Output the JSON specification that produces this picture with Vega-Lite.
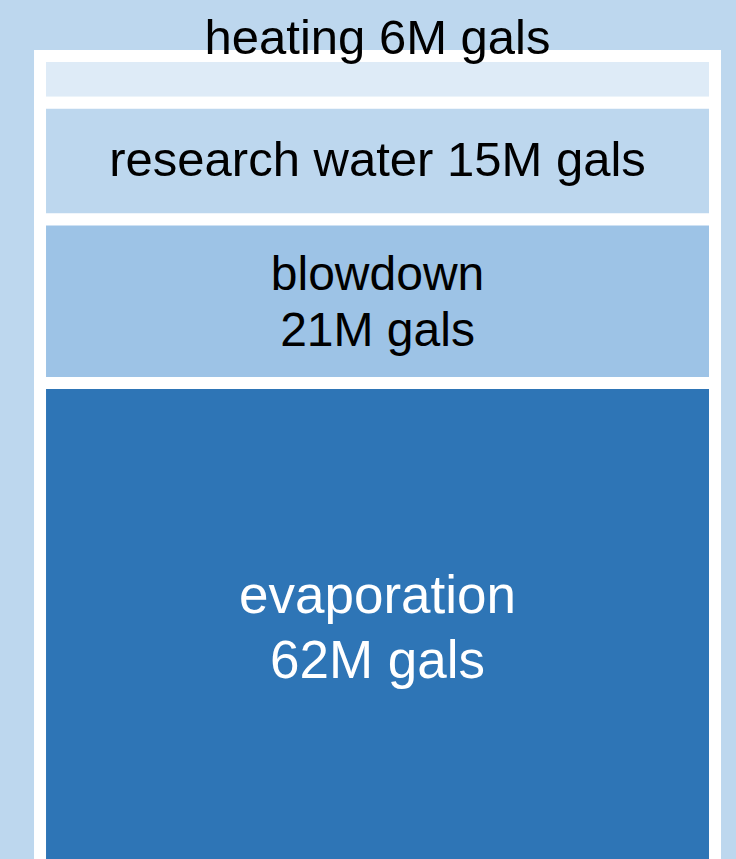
{
  "$schema": "https://vega.github.io/schema/vega-lite/v6.json",
  "width": 736,
  "height": 859,
  "padding": 0,
  "autosize": {"type": "none"},
  "background": "#BDD7EE",
  "config": {"view": {"stroke": null}, "font": "Liberation Sans"},
  "data": {
    "values": [
      {"group": "water use", "use": "heating", "value": 6, "order": 1, "label": "heating 6M gals"},
      {"group": "water use", "use": "research water", "value": 15, "order": 2, "label": "research water 15M gals"},
      {"group": "water use", "use": "blowdown", "value": 21, "order": 3, "label": "blowdown\n21M gals"},
      {"group": "water use", "use": "evaporation", "value": 62, "order": 4, "label": "evaporation\n62M gals"}
    ]
  },
  "transform": [
    {"stack": "value", "groupby": ["group"], "sort": [{"field": "order", "order": "ascending"}], "as": ["y0", "y1"]},
    {"calculate": "(datum.y0 + datum.y1) / 2", "as": "mid"}
  ],
  "encoding": {
    "x": {"field": "group", "type": "nominal", "axis": null, "scale": {"paddingInner": 0, "paddingOuter": 0.0452, "align": 0.656}}
  },
  "layer": [
    {
      "mark": {"type": "bar", "fill": "white", "stroke": "white", "strokeWidth": 10, "strokeJoin": "round", "clip": true},
      "encoding": {
        "y": {"aggregate": "min", "field": "y0", "type": "quantitative", "axis": null, "scale": {"domain": [-7.18, 103.13], "reverse": true, "nice": false, "zero": false}},
        "y2": {"aggregate": "max", "field": "y1"}
      }
    },
    {
      "mark": {"type": "bar", "stroke": "white", "strokeWidth": 12, "clip": true},
      "encoding": {
        "y": {"field": "y0", "type": "quantitative"},
        "y2": {"field": "y1"},
        "color": {"field": "use", "type": "nominal", "legend": null, "scale": {"domain": ["heating", "research water", "blowdown", "evaporation"], "range": ["#DEEBF7", "#BDD7EE", "#9DC3E6", "#2E75B6"]}}
      }
    },
    {
      "transform": [{"filter": "datum.use == 'research water'"}],
      "mark": {"type": "text", "baseline": "middle", "align": "center", "fontSize": 49, "color": "black", "dy": 0},
      "encoding": {
        "y": {"field": "mid", "type": "quantitative"},
        "text": {"field": "label"}
      }
    },
    {
      "transform": [{"filter": "datum.use == 'blowdown'"}],
      "mark": {"type": "text", "baseline": "middle", "align": "center", "fontSize": 48, "lineHeight": 56, "lineBreak": "\n", "color": "black", "dy": -25},
      "encoding": {
        "y": {"field": "mid", "type": "quantitative"},
        "text": {"field": "label"}
      }
    },
    {
      "transform": [{"filter": "datum.use == 'heating'"}],
      "mark": {"type": "text", "baseline": "alphabetic", "align": "center", "fontSize": 49, "color": "black", "dy": -2},
      "encoding": {
        "y": {"field": "y0", "type": "quantitative"},
        "text": {"field": "label"}
      }
    },
    {
      "transform": [{"filter": "datum.use == 'evaporation'"}],
      "mark": {"type": "text", "baseline": "middle", "align": "center", "fontSize": 53, "lineHeight": 65, "lineBreak": "\n", "color": "white", "dy": -27},
      "encoding": {
        "y": {"field": "mid", "type": "quantitative"},
        "text": {"field": "label"}
      }
    }
  ]
}
